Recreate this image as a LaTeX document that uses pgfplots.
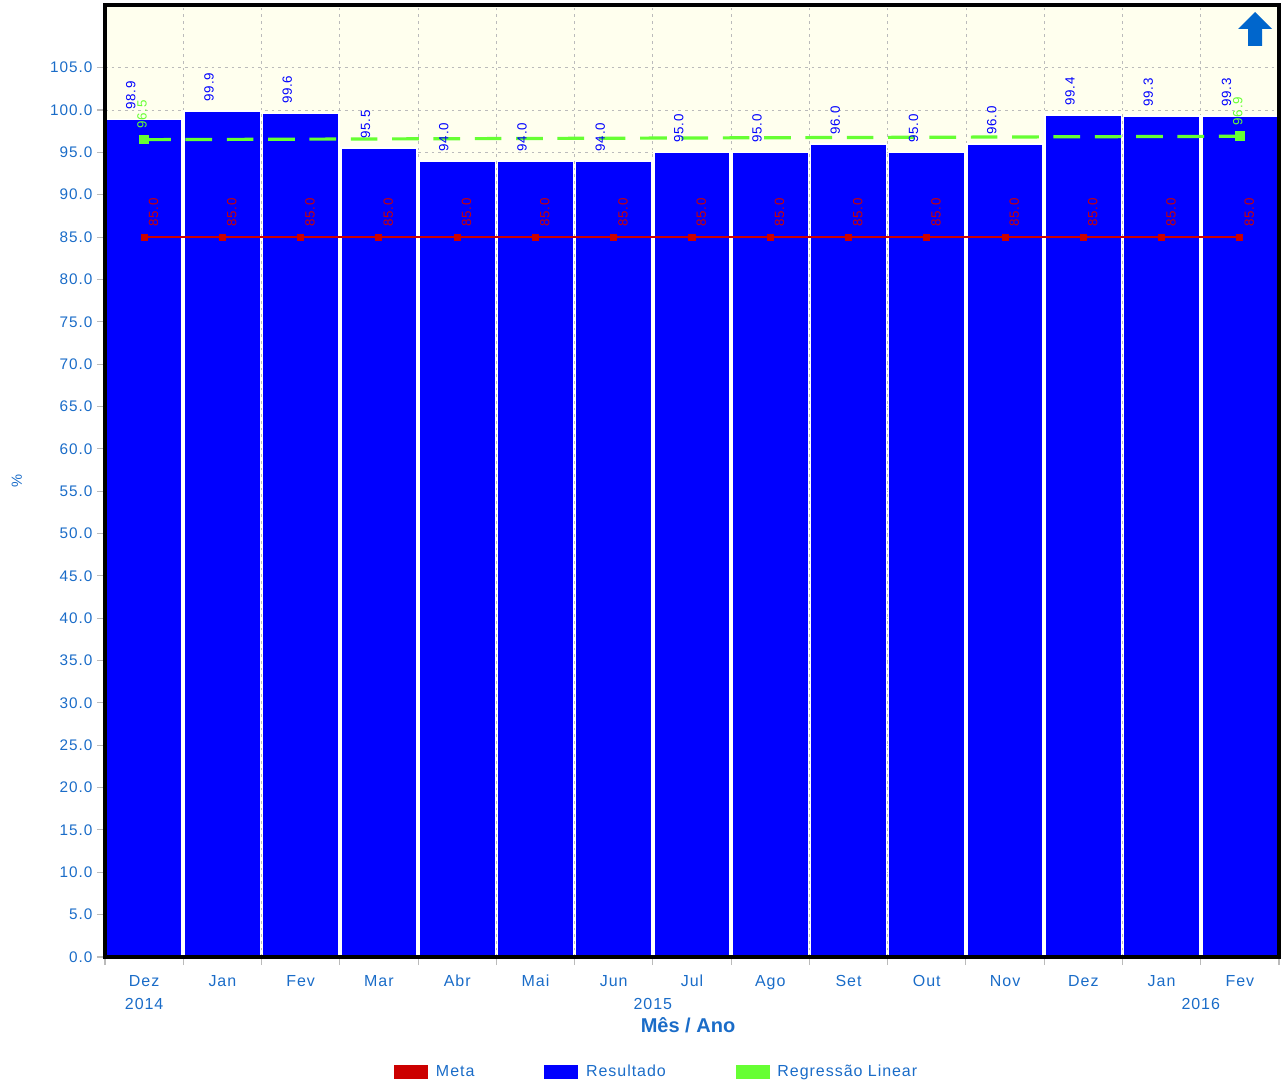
\documentclass[border=0pt]{standalone}
\usepackage{pgfplots}
\pgfplotsset{compat=1.18}
\usepackage{fontspec}
\setmainfont{Liberation Sans}[LetterSpace=6]
\newfontfamily\plainsans{Liberation Sans}
\definecolor{barblue}{HTML}{0000FF}
\definecolor{metared}{HTML}{CC0000}
\definecolor{reggreen}{HTML}{66FF33}
\definecolor{textblue}{HTML}{1A6CC8}
\definecolor{bgyellow}{HTML}{FFFFEE}
\definecolor{gridgray}{HTML}{BBBBBB}
\definecolor{arrowblue}{HTML}{0066CC}
\begin{document}
\begin{tikzpicture}
\begin{axis}[
  scale only axis, width=880.5pt, height=714pt,
  xmin=-0.5, xmax=14.5, ymin=0, ymax=112.4,
  axis background/.style={fill=bgyellow},
  axis line style={draw=none},
  clip=false,
  tick pos=left, tick align=outside,
  xtick={0,...,14},
  xticklabels={Dez,Jan,Fev,Mar,Abr,Mai,Jun,Jul,Ago,Set,Out,Nov,Dez,Jan,Fev},
  major x tick style={draw=none},
  minor xtick={-0.5,0.5,...,14.5},
  minor x tick style={gridgray, line width=0.8pt},
  minor tick length=6pt,
  xminorgrids,
  minor x grid style={gridgray, line width=0.6pt, dash pattern=on 2pt off 3pt},
  extra x ticks={0,6.5,13.5},
  extra x tick labels={2014,2015,2016},
  extra x tick style={major tick length=0pt, grid=none, xticklabel style={yshift=-23pt}},
  xticklabel style={font=\fontsize{12}{14}\selectfont, text=textblue, anchor=north, yshift=-4.25pt},
  ytick={0,5,...,105},
  ymajorgrids,
  major y grid style={gridgray, line width=0.6pt, dash pattern=on 2pt off 3pt},
  y tick style={gridgray, line width=0.8pt},
  major tick length=6pt,
  yticklabel style={font=\fontsize{11.5}{13}\selectfont, text=textblue},
  /pgf/number format/.cd, fixed, fixed zerofill, precision=1, assume math mode=true,
  /pgfplots/.cd,
  ylabel={\%},
  ylabel style={at={(rel axis cs:-0.075,0.5)}, anchor=center, rotate=0, font=\fontsize{11}{13}\selectfont, text=textblue},
  xlabel={\plainsans\bfseries Mês / Ano},
  xlabel style={at={(rel axis cs:0.4966,-0.0714)}, anchor=center, font=\fontsize{15}{17}\selectfont, text=textblue},
  legend columns=3,
  legend style={at={(rel axis cs:0.2428,-0.1208)}, anchor=west, draw=none, fill=none,
    font=\fontsize{12}{14}\selectfont, text=textblue,
    /tikz/every even column/.append style={column sep=50.5pt}},
  legend image code/.code={\fill[#1, draw=none] (0pt,-5pt) rectangle (25.5pt,5pt); \path (29.25pt,0pt);},
]
\addlegendimage{fill=metared, draw=none}
\addlegendimage{fill=barblue, draw=none}
\addlegendimage{fill=reggreen, draw=none}
\legend{Meta,Resultado,Regressão Linear}

\addplot[ybar, bar width=0.975, fill=barblue, draw=white, line width=1.2pt,
  nodes near coords, point meta=y,
  every node near coord/.append style={xshift=-10pt, yshift=6.5pt, rotate=90, anchor=west, inner sep=0pt, text=barblue, font=\fontsize{10}{11}\selectfont}]
coordinates {(0,98.9) (1,99.9) (2,99.6) (3,95.5) (4,94.0) (5,94.0) (6,94.0) (7,95.0) (8,95.0) (9,96.0) (10,95.0) (11,96.0) (12,99.4) (13,99.3) (14,99.3)};

\addplot[reggreen, line width=2.4pt, dash pattern=on 20pt off 11pt, mark=square*, mark size=2.4pt, mark options={solid},
  nodes near coords, point meta=y,
  every node near coord/.append style={xshift=-1.5pt, yshift=7pt, rotate=90, anchor=west, inner sep=0pt, text=reggreen, font=\fontsize{10}{11}\selectfont}]
coordinates {(0,96.5) (14,96.9)};

\addplot[metared, line width=0.9pt, mark=square*, mark size=2.2pt,
  nodes near coords, point meta=y,
  every node near coord/.append style={xshift=7pt, yshift=7.5pt, rotate=90, anchor=west, inner sep=0pt, text=metared, font=\fontsize{10}{11}\selectfont}]
coordinates {(0,85) (1,85) (2,85) (3,85) (4,85) (5,85) (6,85) (7,85) (8,85) (9,85) (10,85) (11,85) (12,85) (13,85) (14,85)};

\coordinate (bl) at (rel axis cs:0,0);
\coordinate (tr) at (rel axis cs:1,1);
\end{axis}
\draw[black, line width=2.4pt] (bl) rectangle (tr);
\fill[arrowblue] ([xshift=-18pt,yshift=-5.25pt]tr) -- ([xshift=-5.25pt,yshift=-18pt]tr) -- ([xshift=-12.75pt,yshift=-18pt]tr)
  -- ([xshift=-12.75pt,yshift=-30.75pt]tr) -- ([xshift=-23.25pt,yshift=-30.75pt]tr) -- ([xshift=-23.25pt,yshift=-18pt]tr)
  -- ([xshift=-30.75pt,yshift=-18pt]tr) -- cycle;
\pgfresetboundingbox
\path[use as bounding box] ([xshift=-78.75pt,yshift=-96pt]bl) rectangle ([xshift=2.25pt,yshift=3.75pt]tr);
\end{tikzpicture}
\end{document}
